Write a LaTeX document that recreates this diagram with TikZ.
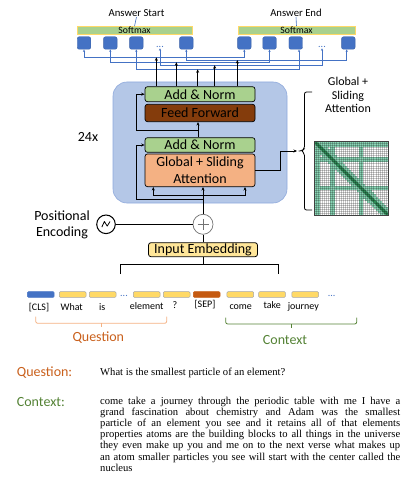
\documentclass[tikz,border=0pt]{standalone}
\usepackage{fontspec}
\setmainfont{Liberation Serif}
\newfontfamily\calib{Carlito}
\usetikzlibrary{arrows.meta,calc}
\definecolor{encblue}{HTML}{B4C7E7}
\definecolor{encborder}{HTML}{8FAADC}
\definecolor{addgreen}{HTML}{A9D18E}
\definecolor{ffbrown}{HTML}{843C0C}
\definecolor{attorange}{HTML}{F4B183}
\definecolor{embyellow}{HTML}{FFE699}
\definecolor{tokyellow}{HTML}{FFD966}
\definecolor{tokgray}{HTML}{A6A6A6}
\definecolor{clsblue}{HTML}{4472C4}
\definecolor{sepbrown}{HTML}{C55A11}
\definecolor{lineblue}{HTML}{4472C4}
\definecolor{qorange}{HTML}{C9601C}
\definecolor{qbrace}{HTML}{F4B183}
\definecolor{cgreen}{HTML}{548235}
\definecolor{mlight}{HTML}{8AD6B6}
\definecolor{mdark}{HTML}{2E8B57}
\begin{document}
\begin{tikzpicture}[x=1pt,y=-1pt,
  conn/.style={line width=0.8pt, draw=black},
  arr/.style={conn, -{Stealth[length=3.5pt,width=3pt]}},
  blink/.style={line width=0.6pt, draw=lineblue, {Stealth[length=2.5pt,width=2.2pt]}-{Stealth[length=2.5pt,width=2.2pt]}},
  big/.style={font=\calib\fontsize{14}{16.5}\selectfont},
  encbox/.style={draw=encborder, fill=encblue, rounded corners=14pt, minimum width=174pt, minimum height=121pt, line width=0.6pt, inner sep=0},
  layer/.style={big, draw=black, line width=0.7pt, rounded corners=2.5pt, minimum width=110pt, inner sep=0, align=center},
  anbox/.style={layer, fill=addgreen, minimum height=15pt},
  ffbox/.style={layer, fill=ffbrown, minimum height=17.4pt},
  attbox/.style={layer, fill=attorange, minimum height=32.7pt},
  embbox/.style={layer, fill=embyellow, minimum width=109pt, minimum height=14pt, line width=0.8pt},
  smbar/.style={draw=tokyellow, fill=addgreen, line width=0.6pt, minimum width=115pt, minimum height=8pt, inner sep=0, font=\calib\fontsize{9.7}{11}\selectfont},
  sqbox/.style={fill=clsblue, draw=clsblue!85!black, line width=0.4pt, rounded corners=2pt, minimum width=13.5pt, minimum height=12.5pt, inner sep=0},
  dotsn/.style={text=lineblue, font=\calib\fontsize{10}{12}\selectfont, inner sep=0.5pt, anchor=base},
  anslab/.style={font=\calib\fontsize{10.7}{12}\selectfont, inner sep=0},
  tokbar/.style={draw=tokgray, fill=tokyellow, line width=0.5pt, minimum width=26.7pt, minimum height=5.6pt, inner sep=0, rounded corners=1pt},
  tlab/.style={font=\calib\fontsize{10}{12}\selectfont, inner sep=0, anchor=base},
]
\useasboundingbox (0,0) rectangle (415,484);

% ---------- top: answer heads ----------
\node[anslab] (ansS) at (136.5,13.3) {Answer Start};
\node[anslab] (ansE) at (296,13.3) {Answer End};
\node[smbar] (smL) at (134.5,30.5) {Softmax};
\node[smbar, minimum width=117pt] (smR) at (296.5,30.5) {Softmax};
\draw[draw=lineblue, line width=0.6pt] (smL.north) -- (ansS.south);
\draw[draw=lineblue, line width=0.6pt] (smR.north) -- (ansE.south);

\node[sqbox] (sL1) at (84,43) {};
\node[sqbox] (sL2) at (110.3,43) {};
\node[sqbox] (sL3) at (136.3,43) {};
\node[dotsn] (dL) at (160,47.5) {...};
\node[sqbox] (sL4) at (186.3,43) {};
\node[sqbox] (sR1) at (244.3,43) {};
\node[sqbox] (sR2) at (269.5,43) {};
\node[sqbox] (sR3) at (295.7,43) {};
\node[dotsn] (dR) at (322,47.5) {...};
\node[sqbox] (sR4) at (348.3,43) {};

\coordinate (lv1) at (0,57.3);
\coordinate (lv4) at (0,60);
\coordinate (lv2) at (0,62.2);
\coordinate (lvd) at (0,65.2);
\coordinate (lv3) at (0,69.3);
\coordinate (sR3b) at ([xshift=3.3pt]sR3.south);
\coordinate (sR4b) at ([xshift=-1.6pt]sR4.south);

\draw[blink] (sL1.south) -- (sL1.south |- lv1) -- (sR1.south |- lv1) -- (sR1.south);
\draw[blink] (sL4.south) -- (sL4.south |- lv4) -- (sR4b |- lv4) -- (sR4b);
\draw[blink] (sL2.south) -- (sL2.south |- lv2) -- (sR2.south |- lv2) -- (sR2.south);
\draw[blink] (dL.south) -- (dL.south |- lvd) -- (dR.south |- lvd) -- (dR.south);
\draw[blink] (sL3.south) -- (sL3.south |- lv3) -- (sR3b |- lv3) -- (sR3b);

% ---------- encoder block ----------
\node[encbox] (enc) at (200,142.5) {};
\node[big, inner sep=0] (rep) at (88,137) {24x};
\node[anbox] (an1) at (200,94.2) {Add \& Norm};
\node[ffbox] (ff) at (200,113) {Feed Forward};
\node[anbox, minimum height=14.6pt] (an2) at (200,145) {Add \& Norm};
\node[attbox] (att) at (200,170.3) {Global + Sliding\\Attention};

\coordinate (k1) at ([xshift=11.7pt]an1.north west);
\coordinate (k2) at ([xshift=31.7pt]an1.north west);
\coordinate (k3) at ([xshift=53pt]an1.north west);
\coordinate (k4) at ([xshift=70pt]an1.north west);
\coordinate (k5) at ([xshift=92.7pt]an1.north west);
\draw[arr] (k1) -- (k1 |- lv1);
\draw[arr] (k2) -- (k2 |- lv2);
\draw[arr] (k3) -- (k3 |- lv3);
\draw[arr] (k4) -- (k4 |- lvd);
\draw[arr] (k5) -- (k5 |- lv4);

% feed forward path and residual
\draw[arr] ([xshift=-2pt]an2.north) -- ([xshift=-2pt]ff.south);
\coordinate (j1) at (198,130);
\coordinate (r1) at (136,130);
\draw[arr] (j1) -- (r1) |- (an1.west);

% ---------- input side ----------
\node[circle, draw=black!55, fill=white, line width=0.7pt, minimum size=20pt, inner sep=0] (plus) at (203,224.3) {};
\draw[black!55, line width=0.7pt] ([xshift=-5.5pt]plus.center) -- ([xshift=5.5pt]plus.center);
\draw[black!55, line width=0.7pt] ([yshift=5.5pt]plus.center) -- ([yshift=-5.5pt]plus.center);

\draw[arr] (plus.north) -- (att.south -| plus.north);
\coordinate (d1) at (153.3,195.5);
\coordinate (d2) at (245,195.5);
\draw[conn] (d1) -- (d2);
\draw[arr] (d1) -- (d1 |- att.south);
\draw[arr] (d2) -- (d2 |- att.south);
\coordinate (r2) at (136.7,199.5);
\draw[arr] (r2 -| plus.north) -- (r2) |- (an2.west);

% attention output to matrix
\coordinate (o1) at (280,151);
\coordinate (bm) at (297,151);
\draw[arr] (att.east) -| (o1) -- (bm);

% brace
\draw[line width=0.8pt, rounded corners=2pt] (312,92) -- (304.5,92) -- (304.5,148.5) -- (302,151) -- (298.5,151);
\draw[line width=0.8pt, rounded corners=2pt] (312,210) -- (304.5,210) -- (304.5,153.5) -- (302,151);

\node[font=\calib\fontsize{12}{13.4}\selectfont, align=center, inner sep=0] (gsa) at (348,95) {Global +\\Sliding\\Attention};

% attention matrix
\pgfmathsetmacro{\mcell}{74/36}
\begin{scope}[shift={(314,141)}]
  \fill[white] (0,0) rectangle (74,74);
  \clip (0,0) rectangle (74,74);
  \fill[mlight] (0,0) rectangle (74,{3*\mcell});
  \fill[mlight] (0,0) rectangle ({3*\mcell},74);
  \fill[mlight] (0,{8*\mcell}) rectangle (74,{10*\mcell});
  \fill[mlight] ({8*\mcell},0) rectangle ({10*\mcell},74);
  \fill[mlight] (0,{22*\mcell}) rectangle (74,{24*\mcell});
  \fill[mlight] ({22*\mcell},0) rectangle ({24*\mcell},74);
  \foreach \i in {0,...,35} {
    \fill[mlight] ({max(\i-3,0)*\mcell},{\i*\mcell}) rectangle ({min(\i+4,36)*\mcell},{(\i+1)*\mcell});
  }
  \draw[mdark, line width=3pt] (0,0) -- (74,74);
  \foreach \i in {1,...,35} {
    \draw[black, opacity=0.22, line width=0.25pt] ({\i*\mcell},0) -- ({\i*\mcell},74);
    \draw[black, opacity=0.22, line width=0.25pt] (0,{\i*\mcell}) -- (74,{\i*\mcell});
  }
\end{scope}
\draw[black!75, line width=0.9pt] (314,141) rectangle (388,215);

% positional encoding
\node[big, align=center, inner sep=0] (posl) at (62,225) {Positional\\Encoding};
\node[circle, draw=black, line width=1pt, fill=white, minimum size=18.6pt, inner sep=0] (pe) at (106,224.3) {};
\draw[line width=0.8pt, line join=round] ([shift={(-4.2pt,-2.8pt)}]pe.center) -- ([shift={(-1.6pt,2.8pt)}]pe.center) -- ([shift={(1.2pt,-1.8pt)}]pe.center) -- ([shift={(4pt,2.8pt)}]pe.center);
\draw[conn] (pe.east) -- (plus.west);

\node[embbox] (emb) at (203,249.7) {Input Embedding};
\draw[conn] (emb.north) -- (plus.south);
\coordinate (sp) at (203,264);
\coordinate (spL) at (120,264);
\coordinate (spR) at (278.3,264);
\coordinate (spLe) at (120,274);
\coordinate (spRe) at (278.3,274);
\draw[conn] (emb.south) -- (sp);
\draw[conn] (spLe) -- (spL) -- (spR) -- (spRe);

% ---------- tokens ----------
\node[tokbar, fill=clsblue, draw=clsblue] (t1) at (40.8,294.5) {};
\node[tokbar] (t2) at (72.7,294.5) {};
\node[tokbar] (t3) at (102.7,294.5) {};
\node[dotsn] (tdL) at (124,296) {...};
\node[tokbar] (t4) at (146.7,294.5) {};
\node[tokbar] (t5) at (176.7,294.5) {};
\node[tokbar, fill=sepbrown, draw=sepbrown] (t6) at (206.7,294.5) {};
\node[tokbar] (t7) at (240.3,294.5) {};
\node[tokbar] (t8) at (272,294.5) {};
\node[tokbar] (t9) at (305.2,294.5) {};
\node[dotsn] (tdR) at (331.7,296) {...};

\node[tlab] (l1) at (39,310.5) {[CLS]};
\node[tlab] (l2) at (71.7,310.5) {What};
\node[tlab] (l3) at (102.3,310.5) {is};
\node[tlab] (l4) at (146.7,309.5) {element};
\node[tlab] (l5) at (175,308.3) {?};
\node[tlab] (l6) at (205,307) {[SEP]};
\node[tlab] (l7) at (240.7,309.5) {come};
\node[tlab] (l8) at (272.3,308.5) {take};
\node[tlab] (l9) at (303.3,309.5) {journey};

% braces under tokens
\draw[qbrace, line width=0.8pt, rounded corners=2pt] (35.7,316.7) -- (35.7,323.3) -- (166.7,323.3) -- (166.7,316.7);
\draw[qbrace, line width=0.8pt] (101.2,323.3) -- (101.2,327);
\node[big, text=qorange, inner sep=0, anchor=base] (qlab) at (98.3,341.3) {Question};
\draw[cgreen, line width=0.8pt, rounded corners=2pt] (225.7,317.7) -- (225.7,324) -- (356.7,324) -- (356.7,317.7);
\draw[cgreen, line width=0.8pt] (291.2,324) -- (291.2,327.5);
\node[big, text=cgreen, inner sep=0, anchor=base] (clab) at (285,344.5) {Context};

% ---------- bottom text ----------
\node[big, text=qorange, inner sep=0, anchor=base west] (qh) at (16.7,376.2) {Question:};
\node[font=\fontsize{10.6}{11.2}\selectfont, inner sep=0, anchor=base west] (qt) at (100,375) {What is the smallest particle of an element?};
\node[big, text=cgreen, inner sep=0, anchor=base west] (ch) at (16.7,406) {Context:};
\node[font=\fontsize{10.6}{11.15}\selectfont, inner sep=0, anchor=base west, text width=300pt, align=justify] (ct) at (100,404.3) {\emergencystretch=2em
come take a journey through the periodic table with me I have a\linebreak
grand fascination about chemistry and Adam was the smallest\linebreak
particle of an element you see and it retains all of that elements\linebreak
properties atoms are the building blocks to all things in the universe\linebreak
they even make up you and me on to the next verse what makes up\linebreak
an atom smaller particles you see will start with the center called the\linebreak
nucleus};
\end{tikzpicture}
\end{document}
